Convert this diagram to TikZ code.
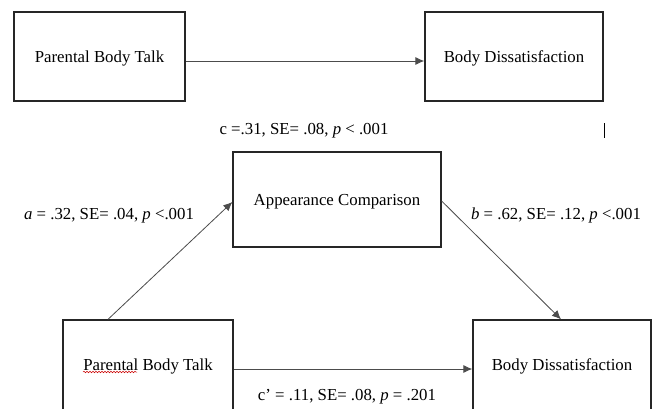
\documentclass[tikz,border=0pt]{standalone}
\usepackage{fontspec}
\setmainfont{Liberation Serif}
\usetikzlibrary{arrows.meta,decorations.pathmorphing}
\begin{document}
\begin{tikzpicture}[x=1pt,y=-1pt,
  box/.style={draw=black!85,line width=1.3pt,minimum width=#1,inner sep=0pt,text depth=0pt},
  box/.default=171pt,
  lbl/.style={inner sep=0pt,text depth=0pt},
  conn/.style={draw=black!70,line width=0.8pt,-{Latex[length=9pt,width=8pt]}},
  every node/.style={font=\fontsize{16.8}{19}\selectfont}]
\clip (0,0) rectangle (657,408);
\fill[white] (0,0) rectangle (657,408);
% top model
\node[box=171pt,minimum height=89pt] (tl) at (99.5,56.5) {Parental Body Talk};
\node[box=178pt,minimum height=89pt] (tr) at (514,56.5) {Body Dissatisfaction};
\draw[conn] ([yshift=-4.5pt]tl.east) -- ([yshift=-4.5pt]tr.west);
\node[lbl] (c) at (304,128.5) {c =.31, SE= .08, \textit{p} < .001};
\coordinate (bar1) at (604,123);
\coordinate (bar2) at (604,138);
\draw[line width=0.8pt] (bar1) -- (bar2);
% mediation model
\node[box=208pt,minimum height=95pt] (mid) at (337,199.5) {Appearance Comparison};
\node[box=170pt,minimum height=90pt] (bl) at (148,365) {Parental Body Talk};
\node[box=178pt,minimum height=90pt] (br) at (562,365) {Body Dissatisfaction};
\draw[conn] ([xshift=-40pt]bl.north) -- ([yshift=-2.5pt]mid.west);
\draw[conn] ([yshift=-1.5pt]mid.east) -- ([xshift=-1pt]br.north);
\draw[conn] ([yshift=-4pt]bl.east) -- ([yshift=-4pt]br.west);
\node[lbl] (a) at (109,213.5) {\textit{a} = .32, SE= .04, \textit{p} <.001};
\node[lbl] (b) at (556,213.5) {\textit{b} = .62, SE= .12, \textit{p} <.001};
\node[lbl] (cp) at (347,394.5) {c’ = .11, SE= .08, \textit{p} = .201};
% spell-check squiggle under "Parental"
\coordinate (sq1) at (83,372);
\coordinate (sq2) at (137,372);
\draw[red!80!black,line width=0.5pt,decorate,decoration={snake,amplitude=0.8pt,segment length=3pt}] (sq1) -- (sq2);
\end{tikzpicture}
\end{document}
